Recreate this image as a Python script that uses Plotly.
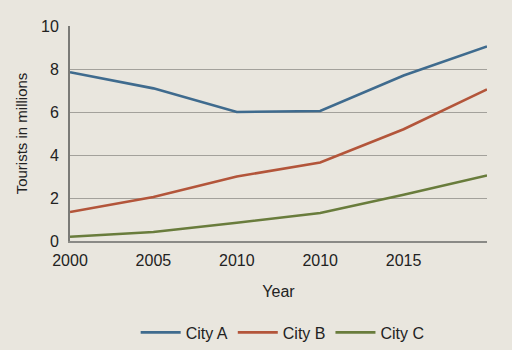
import plotly.graph_objects as go

positions = [0, 1, 2, 3, 4, 5]
tick_labels = ["2000", "2005", "2010", "2010", "2015", ""]
city_a = [7.85, 7.1, 6.0, 6.05, 7.7, 9.05]
city_b = [1.35, 2.05, 3.0, 3.65, 5.2, 7.05]
city_c = [0.2, 0.42, 0.85, 1.3, 2.15, 3.05]

series = [("City A", city_a, "#3f6b8e"), ("City B", city_b, "#b3553a"), ("City C", city_c, "#697c3c")]

fig = go.Figure()
for name, vals, col in series:
    fig.add_trace(go.Scatter(x=positions, y=vals, mode="lines", name=name,
                             line=dict(color=col, width=2.6)))

font = "Liberation Sans, Arial, sans-serif"
fig.update_layout(
    width=512, height=350,
    margin=dict(l=70, r=25, t=26, b=109, autoexpand=False),
    paper_bgcolor="#e9e6de", plot_bgcolor="#e9e6de",
    font=dict(family=font, size=15, color="#222222"),
    showlegend=True,
    legend=dict(orientation="h", x=0.51, xanchor="center", yref="container", y=0.05, yanchor="middle",
                font=dict(size=16, color="#222222"), bgcolor="rgba(0,0,0,0)", itemwidth=40),
)
fig.update_xaxes(range=[0, 5], tickvals=positions, ticktext=tick_labels, showgrid=False,
                 zeroline=False, showline=True, linecolor="#8a8a86", linewidth=1.5,
                 ticks="", tickfont=dict(size=16, color="#222222"), automargin=False,
                 ticklabelstandoff=4,
                 title=dict(text="Year", font=dict(size=16, color="#222222"), standoff=18))
fig.update_yaxes(range=[0, 10], tickvals=[0, 2, 4, 6, 8, 10], showgrid=True,
                 gridcolor="#a3a19b", gridwidth=1.3, zeroline=False, showline=True,
                 linecolor="#7a7a76", linewidth=2, ticks="", ticklabelstandoff=6,
                 tickfont=dict(size=16, color="#222222"), automargin=False,
                 title=dict(text="Tourists in millions", font=dict(size=15, color="#222222"), standoff=10))

fig.write_html("out.html")
